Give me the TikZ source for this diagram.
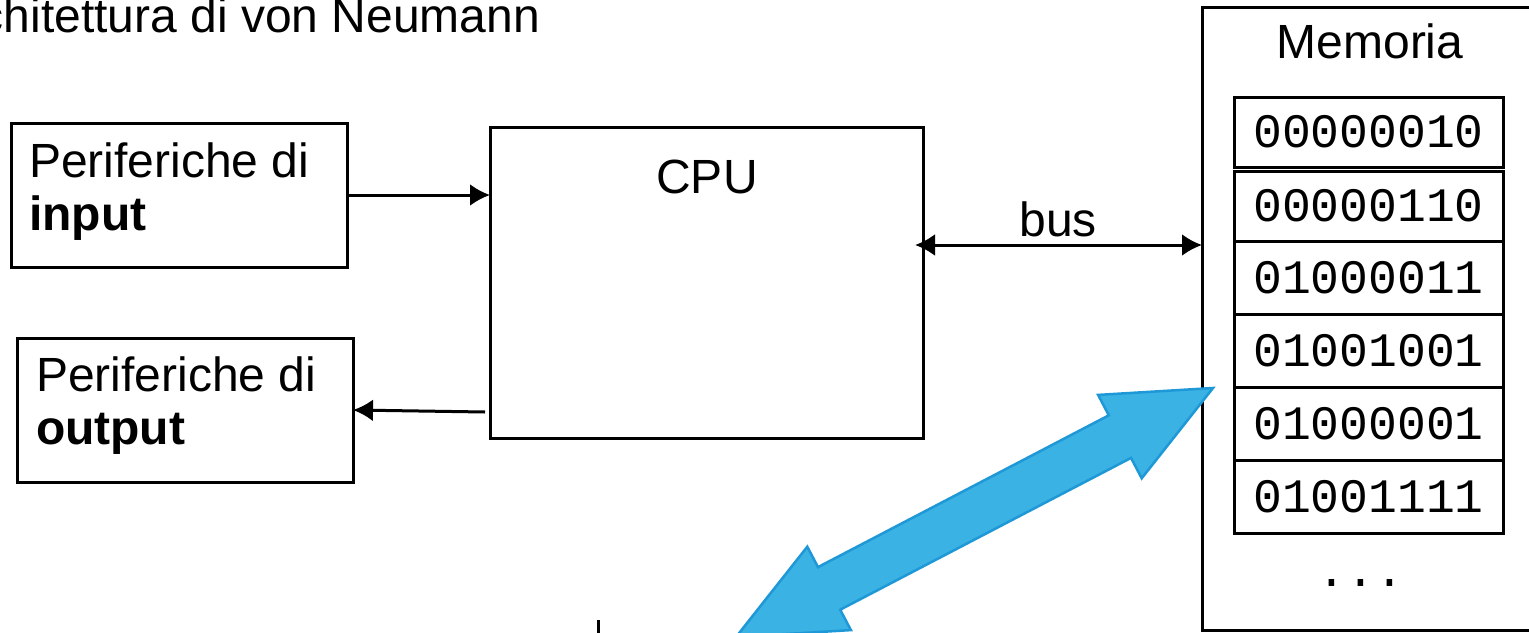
\documentclass[tikz,border=0pt]{standalone}
\usepackage{fontspec}
\setmainfont{Liberation Sans}
\setmonofont{Liberation Mono}
\usetikzlibrary{arrows.meta}
\newcommand{\bigtxt}{\fontsize{48}{56}\selectfont}
\newcommand{\bigmono}{\fontsize{48}{56}\selectfont\ttfamily}
\definecolor{arrowblue}{RGB}{58,178,228}
\definecolor{arrowedge}{RGB}{30,152,214}
\begin{document}
\begin{tikzpicture}[x=1pt,y=-1pt,
  box/.style={draw, line width=3pt, anchor=north west, inner sep=0pt, outer sep=0pt},
  cell/.style={draw, line width=3pt, anchor=north west, inner sep=0pt, outer sep=0pt,
    minimum width=269pt, font=\bigmono},
  lbl/.style={inner sep=0pt, outer sep=0pt, font=\bigtxt},
  conn/.style={line width=3pt, -{Latex[length=20pt,width=22pt]}},
  biconn/.style={line width=3pt, {Latex[length=20pt,width=22pt]}-{Latex[length=20pt,width=22pt]}},
  fat/.style={fill=arrowblue, draw=arrowedge, line width=2.5pt, line join=miter}]
\useasboundingbox (0,0) rectangle (1529,632);
\clip (0,0) rectangle (1529,632);

% title
\node[lbl, anchor=base east] (title) at (540,32) {chitettura di von Neumann};

% peripherals
\node[box, minimum width=336pt, minimum height=144pt] (inbox) at (11,123) {};
\node[lbl, anchor=base west] (in1) at (29,177) {Periferiche di};
\node[lbl, anchor=base west] (in2) at (29,230) {\textbf{input}};

\node[box, minimum width=336pt, minimum height=144pt] (outbox) at (17,338) {};
\node[lbl, anchor=base west] (out1) at (36,391) {Periferiche di};
\node[lbl, anchor=base west] (out2) at (36,444) {\textbf{output}};

% CPU
\node[box, minimum width=433pt, minimum height=311pt] (cpu) at (490,127) {};
\node[lbl, anchor=base] (cpulbl) at (707,193) {CPU};

% memory
\node[box, minimum width=400pt, minimum height=623pt] (mem) at (1202,7) {};
\node[lbl, anchor=base] (memlbl) at (1370,58) {Memoria};

\node[cell, minimum height=70pt] (c1) at (1234,97) {00000010};
\node[cell, minimum height=70pt] (c2) at (1234,171) {00000110};
\node[cell, minimum height=73pt] (c3) at (1234,241) {01000011};
\node[cell, minimum height=73pt] (c4) at (1234,314) {01001001};
\node[cell, minimum height=73pt] (c5) at (1234,387) {01000001};
\node[cell, minimum height=73pt] (c6) at (1234,460) {01001111};
\node[inner sep=0pt, anchor=base, font=\bigmono] (dots) at (1361,586) {...};

% connectors
\draw[conn] (inbox.east) -- (inbox.east -| cpu.west);
\coordinate (outstart) at (485,412);
\draw[conn] (outstart) -- (outbox.east);
\coordinate (busL) at (915,245);
\draw[biconn] (busL) -- (busL -| mem.west);
\node[lbl, anchor=base] (buslbl) at (1058,236) {bus};

% bottom stub
\coordinate (stubtop) at (598,620);
\coordinate (stubbot) at (598,640);
\draw[line width=3pt] (stubtop) -- (stubbot);

% fat blue double arrow
\draw[fat] (1213,388) -- (1141.7,478.3) -- (1131.0,457.9) -- (840.2,609.7)
  -- (850.9,630.1) -- (736,637) -- (807.3,546.7) -- (818.0,567.1)
  -- (1108.8,415.3) -- (1098.1,394.9) -- cycle;
\end{tikzpicture}
\end{document}
